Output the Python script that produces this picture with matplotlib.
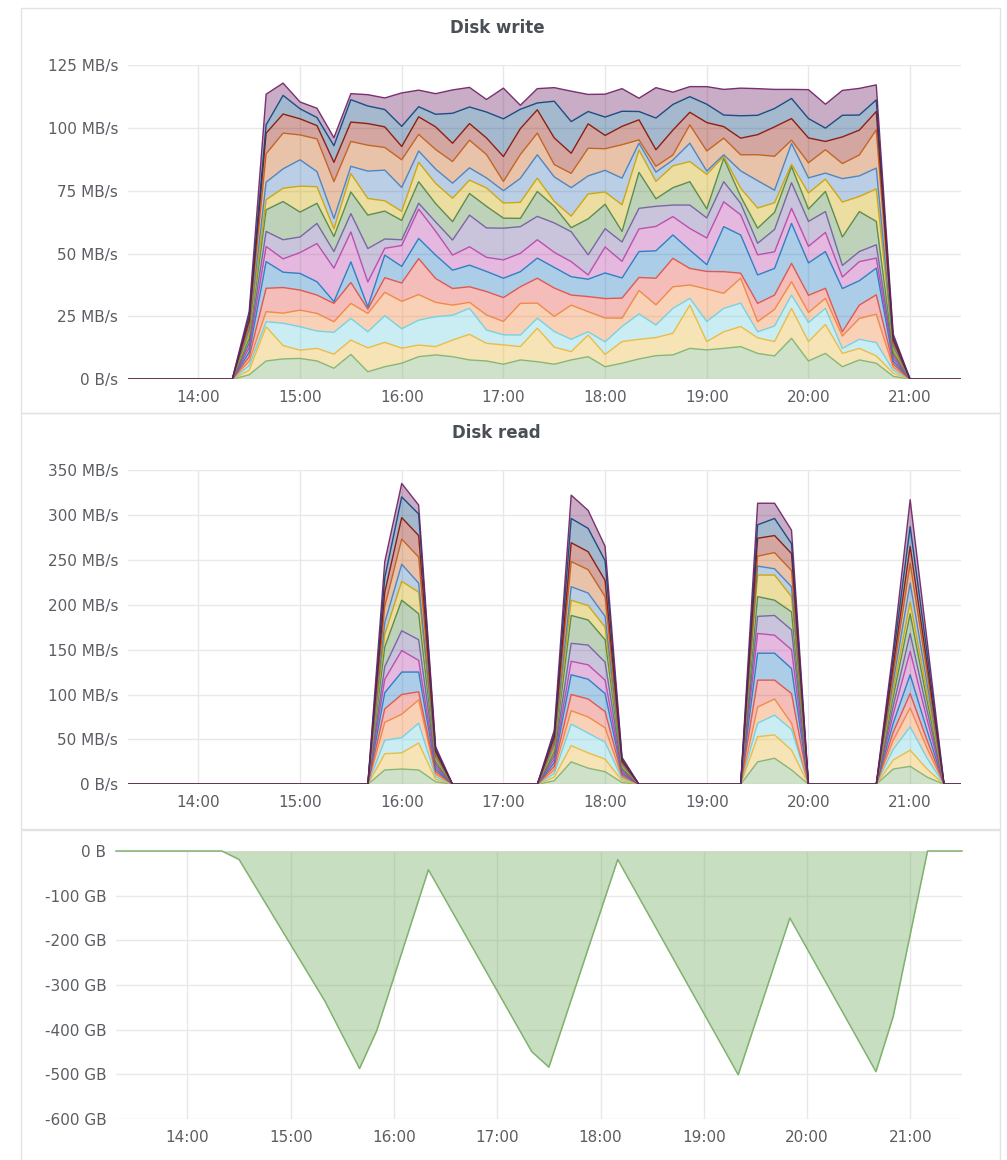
import numpy as np
import pandas as pd
import matplotlib
matplotlib.use("Agg")
import matplotlib.pyplot as plt
import matplotlib.dates as mdates
from matplotlib.ticker import FuncFormatter
from matplotlib.patches import Rectangle

plt.rcParams['font.family'] = ['DejaVu Sans']

# grafana classic palette, one colour per device
colors = ["#7EB26D", "#EAB839", "#6ED0E0", "#EF843C", "#E24D42", "#1F78C1", "#BA43A9", "#705DA0",
          "#508642", "#CCA300", "#447EBC", "#C15C17", "#890F02", "#0A437C", "#6D1F62"]

day = "2021-01-01 "
x_min = pd.Timestamp(day + "13:18:30")
x_max = pd.Timestamp(day + "21:30:00")

# ---- Disk write (MB/s), one sample every 10 min from 14:20 to 21:00
write_times = pd.date_range(day + "14:20", day + "21:00", freq="10min")
w01 = [0, 1.8, 7.3, 8.1, 8.3, 7.3, 4.4, 9.9, 3.0, 5.0, 6.4, 9.0, 9.7, 9.0, 7.7, 7.3, 6.0, 7.7, 7.0, 6.0, 7.7, 9.0, 5.0, 6.4, 8.1, 9.4, 9.7, 12.3, 11.7, 12.3, 13.0, 10.3, 9.3, 16.3, 7.3, 10.3, 5.0, 7.7, 6.4, 1.2, 0]
w02 = [0, 1.8, 13.6, 5.3, 3.3, 5.0, 5.6, 5.7, 9.5, 9.7, 6.0, 4.6, 3.3, 6.6, 10.2, 7.0, 7.7, 5.3, 13.3, 6.8, 3.3, 8.6, 4.9, 8.6, 7.8, 7.2, 8.6, 17.2, 3.3, 6.6, 8.0, 6.2, 5.7, 11.9, 7.7, 11.5, 5.3, 4.6, 2.9, 1.2, 0]
w03 = [0, 1.8, 2.0, 8.9, 9.3, 6.9, 8.7, 8.6, 6.4, 10.6, 7.7, 9.9, 11.9, 9.9, 10.3, 5.3, 4.0, 4.6, 4.0, 6.2, 4.9, 1.3, 5.0, 6.0, 10.1, 5.0, 9.9, 2.7, 8.0, 9.3, 9.3, 2.4, 6.2, 5.3, 7.6, 6.4, 2.0, 3.6, 5.3, 1.2, 0]
w04 = [0, 1.8, 4.0, 4.0, 6.6, 7.0, 4.2, 6.0, 7.3, 9.3, 10.9, 10.2, 5.7, 4.0, 2.4, 6.0, 5.3, 12.6, 6.0, 6.0, 13.6, 8.0, 9.5, 3.3, 9.3, 8.0, 8.6, 5.3, 12.9, 6.0, 9.9, 4.0, 6.6, 5.3, 4.0, 4.0, 4.9, 8.3, 11.3, 1.2, 0]
w05 = [0, 1.8, 9.3, 10.2, 8.0, 7.3, 7.3, 8.3, 1.7, 5.8, 7.3, 14.3, 9.5, 6.6, 6.2, 9.3, 9.5, 6.6, 9.9, 11.3, 4.0, 6.0, 7.7, 8.0, 5.2, 10.6, 11.3, 6.6, 7.0, 8.6, 2.0, 7.3, 5.7, 7.3, 6.8, 4.0, 1.7, 5.3, 7.7, 1.2, 0]
w06 = [0, 1.8, 10.6, 6.1, 6.6, 5.3, 0.7, 8.2, 0.9, 9.0, 6.6, 8.0, 9.3, 7.3, 8.6, 8.0, 7.7, 6.0, 8.0, 8.2, 7.3, 6.9, 10.2, 8.0, 10.3, 10.9, 9.3, 7.3, 2.7, 17.9, 15.2, 11.3, 10.6, 15.9, 12.9, 14.6, 17.2, 9.7, 10.6, 1.2, 0]
w07 = [0, 1.8, 6.0, 5.3, 8.3, 15.2, 13.3, 11.9, 9.9, 2.7, 8.3, 11.7, 9.5, 6.0, 7.3, 5.6, 7.3, 7.3, 7.3, 6.0, 6.0, 1.7, 10.3, 6.6, 9.0, 9.7, 7.3, 8.6, 10.6, 9.9, 8.0, 8.0, 6.6, 6.0, 6.6, 7.6, 4.6, 7.6, 4.0, 1.2, 0]
w08 = [0, 1.8, 6.0, 7.6, 6.2, 8.0, 6.6, 7.3, 13.3, 3.7, 2.3, 2.3, 3.7, 6.0, 12.6, 11.7, 12.6, 10.6, 9.3, 11.7, 11.9, 8.0, 7.3, 7.7, 8.2, 8.0, 4.6, 9.3, 8.0, 8.0, 4.6, 4.6, 8.9, 10.2, 9.9, 8.3, 4.6, 4.0, 5.3, 1.2, 0]
w09 = [0, 1.8, 8.6, 15.2, 9.9, 8.0, 6.0, 8.6, 13.3, 11.1, 7.7, 8.6, 7.3, 7.3, 8.6, 8.6, 4.0, 3.3, 9.9, 6.6, 1.6, 14.3, 9.7, 4.2, 14.3, 3.0, 6.9, 9.3, 3.6, 9.3, 2.7, 6.0, 6.8, 6.4, 4.9, 8.0, 11.3, 15.9, 9.3, 1.2, 0]
w10 = [0, 1.8, 4.0, 5.3, 10.3, 6.6, 3.0, 7.3, 6.6, 4.1, 3.6, 7.7, 8.0, 9.3, 5.3, 7.3, 6.0, 6.4, 5.3, 2.0, 4.6, 9.9, 4.9, 10.6, 8.9, 6.9, 8.7, 8.0, 13.7, 0.7, 3.3, 8.0, 3.8, 0.9, 6.4, 4.9, 13.9, 6.0, 12.9, 1.2, 0]
w11 = [0, 1.8, 7.0, 7.7, 10.5, 6.0, 4.2, 2.9, 10.9, 12.2, 9.5, 4.5, 5.7, 6.0, 4.9, 4.0, 4.9, 9.5, 9.3, 9.7, 11.3, 7.2, 8.6, 10.6, 2.7, 3.7, 2.3, 7.3, 1.3, 0.7, 6.9, 10.9, 5.0, 8.3, 6.0, 2.4, 9.3, 8.2, 8.3, 1.2, 0]
w12 = [0, 1.8, 11.3, 14.2, 9.9, 13.0, 14.6, 9.9, 10.3, 9.0, 11.0, 6.6, 7.8, 8.6, 11.0, 9.3, 3.7, 9.5, 8.6, 4.9, 5.7, 11.0, 8.6, 13.3, 1.3, 2.3, 2.0, 7.3, 8.0, 6.6, 6.4, 10.3, 13.5, 1.3, 6.0, 9.3, 6.0, 8.3, 15.2, 1.2, 0]
w13 = [0, 1.8, 8.2, 7.6, 6.4, 5.3, 7.7, 7.7, 8.6, 8.2, 5.3, 7.0, 9.0, 7.3, 6.6, 6.6, 9.9, 10.3, 9.3, 10.6, 8.0, 9.7, 5.3, 7.3, 8.0, 6.6, 9.9, 5.0, 11.3, 4.6, 6.6, 8.0, 11.7, 8.6, 9.9, 3.3, 10.6, 9.9, 7.3, 1.2, 0]
w14 = [0, 1.8, 3.3, 7.4, 4.0, 3.2, 6.6, 8.9, 7.0, 6.9, 8.0, 4.0, 5.0, 11.9, 6.6, 10.3, 15.0, 7.7, 2.7, 14.6, 12.6, 4.9, 7.3, 6.0, 3.3, 12.6, 10.2, 6.2, 7.3, 4.6, 8.9, 7.7, 7.3, 8.0, 7.7, 5.3, 8.6, 6.0, 4.6, 1.2, 0]
w15 = [0, 1.8, 12.2, 4.9, 2.7, 3.7, 3.2, 2.4, 4.5, 4.6, 13.3, 6.6, 8.2, 9.3, 7.8, 5.0, 12.2, 1.6, 5.7, 5.4, 12.1, 6.8, 9.1, 9.0, 5.3, 12.1, 4.9, 4.0, 7.0, 10.2, 11.0, 10.6, 7.6, 3.6, 11.5, 9.5, 9.9, 10.6, 6.0, 1.2, 0]
write_series = [w01, w02, w03, w04, w05, w06, w07, w08, w09, w10, w11, w12, w13, w14, w15]

# ---- Disk read (MB/s)
read_times = pd.to_datetime([day + t for t in [
    "15:40", "15:50", "16:00", "16:10", "16:20", "16:30",
    "17:20", "17:30", "17:40", "17:50", "18:00", "18:10", "18:20",
    "19:20", "19:30", "19:40", "19:50", "20:00",
    "20:40", "20:50", "21:00", "21:10", "21:20"]])
r01 = [0, 16, 17, 16, 2.8, 0, 0, 4, 25, 18, 14, 2, 0, 0, 25, 29, 16, 0, 0, 17, 20, 8, 0]
r02 = [0, 18, 18, 30, 2.8, 0, 0, 4, 18, 17, 14, 2, 0, 0, 28, 26, 22, 0, 0, 10, 18, 9, 0]
r03 = [0, 15, 17, 22, 2.8, 0, 0, 4, 24, 22, 19, 2, 0, 0, 15, 22, 23, 0, 0, 12, 26, 12, 0]
r04 = [0, 20, 26, 26, 2.8, 0, 0, 4, 15, 18, 16, 2, 0, 0, 18, 18, 7, 0, 0, 10, 21, 11, 0]
r05 = [0, 15, 22, 9, 2.8, 0, 0, 4, 18, 20, 18, 2, 0, 0, 30, 21, 33, 0, 0, 9, 16, 9, 0]
r06 = [0, 18, 25, 22, 2.8, 0, 0, 4, 22, 22, 20, 2, 0, 0, 30, 30, 28, 0, 0, 10, 21, 11, 0]
r07 = [0, 15, 24, 13, 2.8, 0, 0, 4, 15, 16, 15, 2, 0, 0, 22, 20, 21, 0, 0, 10, 26, 12, 0]
r08 = [0, 14, 22, 23, 2.8, 0, 0, 4, 20, 22, 20, 2, 0, 0, 19, 22, 22, 0, 0, 9, 20, 10, 0]
r09 = [0, 22, 34, 29, 2.8, 0, 0, 4, 31, 28, 25, 2, 0, 0, 22, 17, 20, 0, 0, 10, 22, 11, 0]
r10 = [0, 14, 21, 24, 2.8, 0, 0, 4, 17, 16, 14, 2, 0, 0, 24, 28, 17, 0, 0, 8, 13, 8, 0]
r11 = [0, 13, 19, 10, 2.8, 0, 0, 4, 15, 14, 12, 2, 0, 0, 10, 7, 11, 0, 0, 9, 21, 11, 0]
r12 = [0, 18, 28, 29, 2.8, 0, 0, 4, 28, 26, 22, 2, 0, 0, 11, 18, 18, 0, 0, 9, 22, 12, 0]
r13 = [0, 16, 24, 24, 2.8, 0, 0, 4, 21, 20, 18, 2, 0, 0, 20, 19, 19, 0, 0, 9, 19, 10, 0]
r14 = [0, 16, 23, 24, 2.8, 0, 0, 4, 27, 26, 22, 2, 0, 0, 15, 19, 11, 0, 0, 10, 22, 12, 0]
r15 = [0, 18, 15, 10, 2.8, 0, 0, 4, 26, 20, 16, 2, 0, 0, 24, 17, 15, 0, 0, 8, 30, 14, 0]
read_series = [r01, r02, r03, r04, r05, r06, r07, r08, r09, r10, r11, r12, r13, r14, r15]

# ---- third panel (GB)
space_times = pd.to_datetime([day + t for t in [
    "14:20", "14:30", "15:20", "15:40", "15:50", "16:20", "17:20", "17:30",
    "18:10", "19:20", "19:50", "20:40", "20:50", "21:10"]])
space_vals = [0, -19, -337, -487, -402, -42, -449, -484, -19, -501, -150, -494, -371, 0]

W, H = 1007, 1160
fig = plt.figure(figsize=(W / 100, H / 100), dpi=100)


def px(x, y, w, h):
    # pixel box (from top-left) -> figure fraction
    return [x / W, 1 - (y + h) / H, w / W, h / H]


# panel frames
for (y0, y1) in [(8, 413), (413, 829), (830, 1172)]:
    fig.patches.append(Rectangle((21 / W, 1 - y1 / H), 979 / W, (y1 - y0) / H,
                                 transform=fig.transFigure, fill=False,
                                 edgecolor="#e3e3e3", lw=1))


def draw_stack(ax, t, series):
    tt = pd.DatetimeIndex([x_min] + list(t) + [x_max])
    vals = np.array([[0] + list(s) + [0] for s in series], dtype=float)
    ax.stackplot(tt, vals, colors=colors, alpha=0.37, linewidth=0)
    tops = np.cumsum(vals, axis=0)
    for top, c in zip(tops, colors):
        ax.plot(tt, top, color=c, lw=1.0, alpha=0.9)


def style(ax, ylim, yticks, fmt):
    ax.set_xlim(x_min, x_max)
    ax.set_ylim(*ylim)
    ax.set_yticks(yticks)
    ax.yaxis.set_major_formatter(FuncFormatter(fmt))
    ax.xaxis.set_major_locator(mdates.HourLocator(byhour=range(14, 22)))
    ax.xaxis.set_major_formatter(mdates.DateFormatter("%H:%M"))
    ax.grid(color="#e8e8e8", lw=1)
    ax.set_axisbelow(True)
    for s in ax.spines.values():
        s.set_visible(False)
    ax.tick_params(length=0, labelsize=11, labelcolor="#5a5d63")
    ax.tick_params(axis="y", pad=7)
    ax.tick_params(axis="x", pad=8)


rate_fmt = lambda v, p: "0 B/s" if v == 0 else f"{v:.0f} MB/s"
size_fmt = lambda v, p: "0 B" if v == 0 else f"{v:.0f} GB"

ax1 = fig.add_axes(px(128, 65, 833, 314.3))
draw_stack(ax1, write_times, write_series)
style(ax1, (0, 125), [0, 25, 50, 75, 100, 125], rate_fmt)
fig.text(497 / W, 1 - 28 / H, "Disk write", ha="center", va="center",
         fontsize=12, fontweight="bold", color="#4a4e55")

ax2 = fig.add_axes(px(128, 470, 833, 314.3))
draw_stack(ax2, read_times, read_series)
style(ax2, (0, 350), [0, 50, 100, 150, 200, 250, 300, 350], rate_fmt)
fig.text(496 / W, 1 - 433 / H, "Disk read", ha="center", va="center",
         fontsize=12, fontweight="bold", color="#4a4e55")

ax3 = fig.add_axes(px(116, 851, 846, 268))
tt = pd.DatetimeIndex([x_min] + list(space_times) + [x_max])
vv = [0] + space_vals + [0]
ax3.fill_between(tt, vv, 0, color="#7EB26D", alpha=0.42, lw=0)
ax3.plot(tt, vv, color="#7EB26D", lw=1.1, clip_on=False)
style(ax3, (-600, 0), [0, -100, -200, -300, -400, -500, -600], size_fmt)

fig.savefig("out.png", dpi=100, facecolor="white")
